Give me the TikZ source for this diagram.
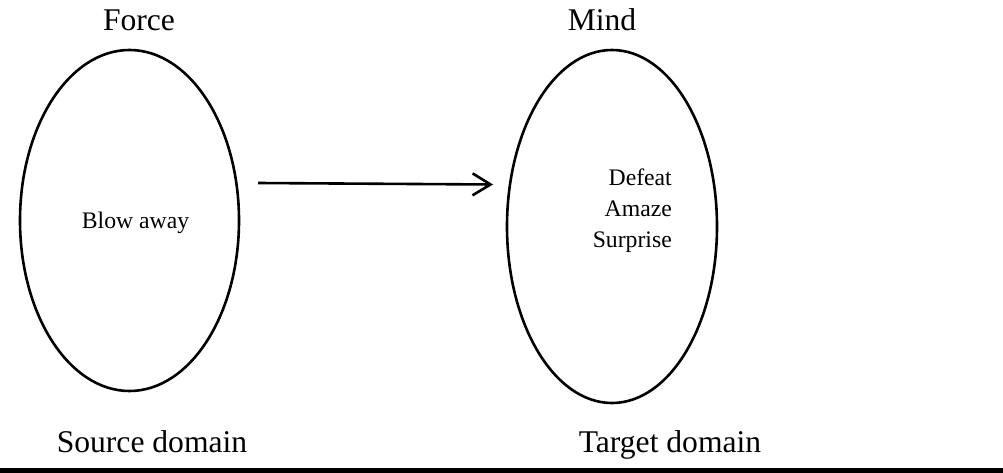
\documentclass[tikz,border=0pt]{standalone}
\usepackage{fontspec}
\setmainfont{Liberation Serif}
\usetikzlibrary{arrows.meta,shapes.geometric}
\begin{document}
\begin{tikzpicture}[x=1pt,y=-1pt,
  domainoval/.style={draw,line width=2.6pt,ellipse,inner sep=0pt},
  biglabel/.style={anchor=base,font=\fontsize{31.6}{36}\selectfont,inner sep=0pt},
  smalllabel/.style={font=\fontsize{23.7}{31}\selectfont,inner sep=0pt}]
\useasboundingbox (0,0) rectangle (1003,473);
\node[domainoval,minimum width=219pt,minimum height=341pt] (src) at (129.5,220.5) {};
\node[domainoval,minimum width=210pt,minimum height=353pt] (tgt) at (612,226.5) {};
\node[biglabel] (force) at (139,31) {Force};
\node[biglabel] (mind) at (602,31) {Mind};
\node[biglabel] (srclab) at (152,452) {Source domain};
\node[biglabel] (tgtlab) at (670,452) {Target domain};
\node[smalllabel,anchor=base] (blow) at (135.5,228) {Blow away};
\node[smalllabel,anchor=base east,align=right] (tgttext) at (672,247) {Defeat\\Amaze\\Surprise};
\coordinate (a1) at (258,183);
\coordinate (a2) at (493,184.5);
\draw[line width=2.6pt,-{Straight Barb[length=18pt,width=22pt,line width=2.6pt]}] (a1) -- (a2);
\fill (0,467.5) rectangle (1003,473);
\end{tikzpicture}
\end{document}
